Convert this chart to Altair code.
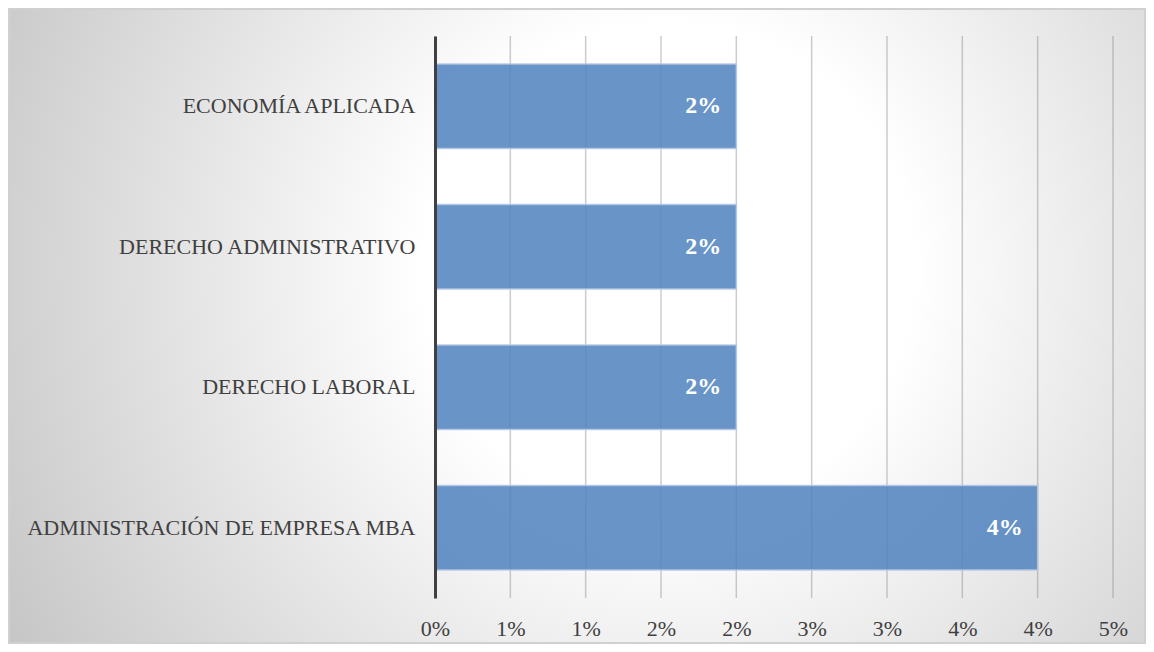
import altair as alt
import pandas as pd

categories = ["ECONOMÍA APLICADA", "DERECHO ADMINISTRATIVO", "DERECHO LABORAL",
              "ADMINISTRACIÓN DE EMPRESA MBA"]
values = [0.02, 0.02, 0.02, 0.04]
value_labels = ["2%", "2%", "2%", "4%"]
tick_values = [0, 0.005, 0.01, 0.015, 0.02, 0.025, 0.03, 0.035, 0.04, 0.045]
tick_labels = ["0%", "1%", "1%", "2%", "2%", "3%", "3%", "4%", "4%", "5%"]

W, H = 678, 562
PL, PT, PR, PB = 427, 28, 33, 46
FONT = "Liberation Serif"

df = pd.DataFrame({"cat": categories, "val": values, "lab": value_labels})
ticks_df = pd.DataFrame({"t": tick_values})
bg_df = pd.DataFrame({"a": [0]})

label_expr = "[" + ",".join("'%s'" % s for s in tick_labels) + "][round(datum.value*200)]"

xscale = alt.Scale(domain=[0, 0.045], nice=False, zero=True)
yscale = alt.Scale(domain=categories, paddingInner=0.4, paddingOuter=0.2)

grad = alt.RadialGradient(
    gradient="radial",
    stops=[alt.GradientStop(offset=0, color="#ffffff"),
           alt.GradientStop(offset=0.3, color="#ffffff"),
           alt.GradientStop(offset=1, color="#bfbfbf")],
    x1=0.58, y1=0.45, r1=0,
    x2=0.58, y2=0.45, r2=0.72,
)

bg = alt.Chart(bg_df).mark_rect(fill=grad, stroke="#d0d0d0", strokeWidth=2).encode(
    x=alt.value(-PL + 1), x2=alt.value(W + PR - 1),
    y=alt.value(-PT + 1), y2=alt.value(H + PB - 1),
)

grid = alt.Chart(ticks_df).mark_rule(color="#808080", opacity=0.4, strokeWidth=1.5).encode(
    x=alt.X("t:Q", scale=xscale),
    y=alt.value(0), y2=alt.value(H),
)

bars = alt.Chart(df).mark_bar(color="#4f81bd", fillOpacity=0.85, stroke="#b4c8e4",
                              strokeWidth=1.5, strokeOpacity=0.9).encode(
    y=alt.Y("cat:N", scale=yscale, sort=categories,
            axis=alt.Axis(title=None, labelFont=FONT, labelFontSize=22,
                          labelColor="#404040", labelPadding=20, ticks=False,
                          domainColor="#404040", domainWidth=3, zindex=1,
                          labelLimit=600)),
    x=alt.X("val:Q", scale=xscale,
            axis=alt.Axis(title=None, values=tick_values, labelExpr=label_expr,
                          labelFont=FONT, labelFontSize=22, labelColor="#404040",
                          labelPadding=20, ticks=False, domain=False, grid=False,
                          labelFlush=False, zindex=1)),
)

texts = alt.Chart(df).mark_text(align="right", baseline="middle", dx=-15, font=FONT,
                                fontSize=24, fontWeight="bold", color="white").encode(
    y=alt.Y("cat:N", scale=yscale, sort=categories),
    x=alt.X("val:Q", scale=xscale),
    text="lab:N",
)

chart = alt.layer(bg, grid, bars, texts).properties(
    width=W, height=H,
    autosize=alt.AutoSizeParams(type="none"),
    padding={"left": PL, "top": PT, "right": PR, "bottom": PB},
).configure_view(stroke=None).configure(background="white")

chart.save("out.html", embed_options={"renderer": "svg", "actions": False})
